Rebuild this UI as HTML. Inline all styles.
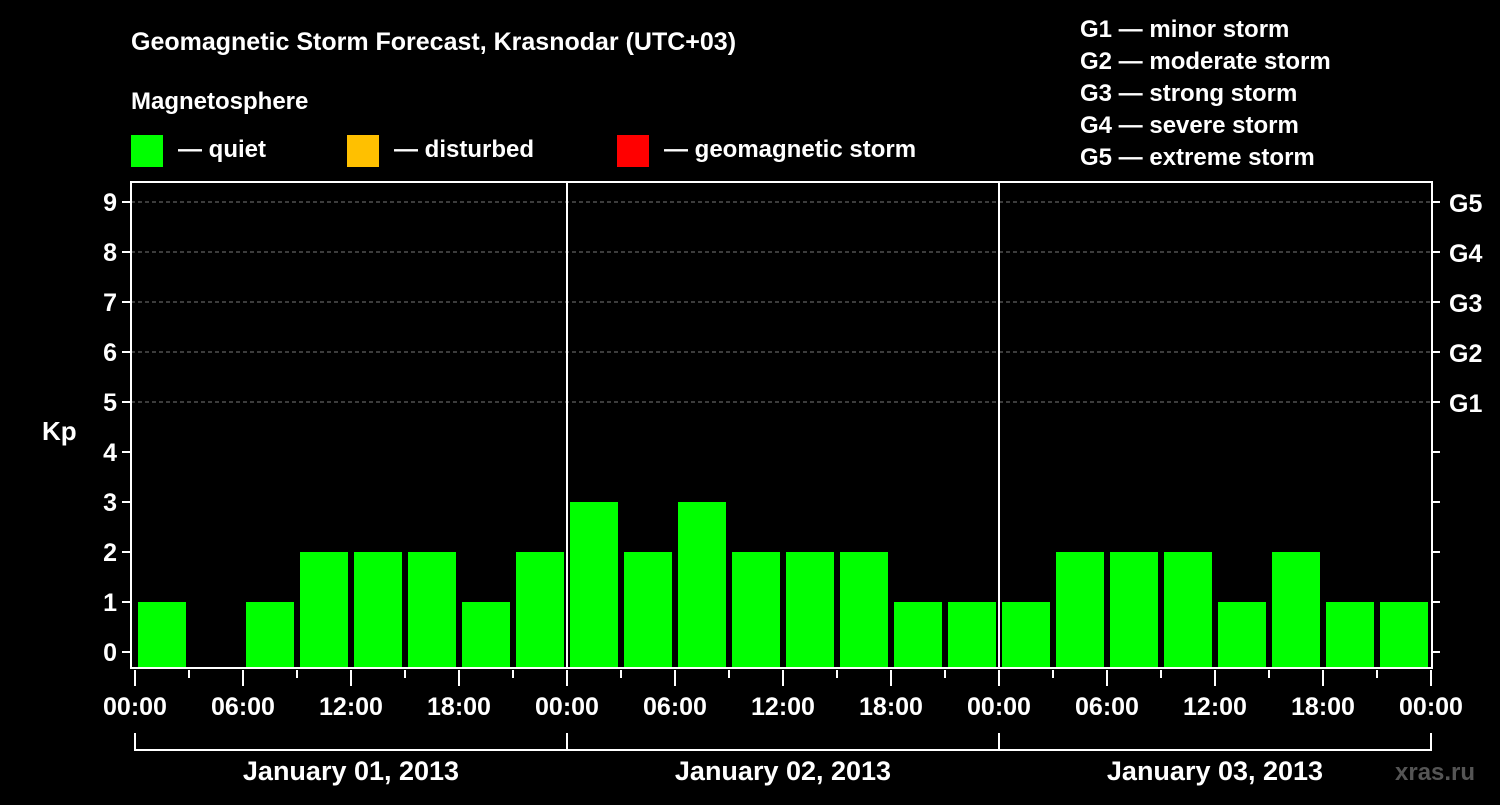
<!DOCTYPE html>
<html><head><meta charset="utf-8"><style>
body{margin:0;background:#000;width:1500px;height:800px;overflow:hidden;font-family:"Liberation Sans",sans-serif}
svg text{font-family:"Liberation Sans",sans-serif;font-weight:bold;fill:#fff}
</style></head><body>
<svg id="c" width="1500" height="800">
<text x="131" y="50" font-size="25">Geomagnetic Storm Forecast, Krasnodar (UTC+03)</text>
<text x="131" y="109" font-size="24">Magnetosphere</text>
<rect x="131" y="135" width="32" height="32" fill="#00ff00"/>
<text x="178" y="157" font-size="24">— quiet</text>
<rect x="347" y="135" width="32" height="32" fill="#ffc000"/>
<text x="394" y="157" font-size="24">— disturbed</text>
<rect x="617" y="135" width="32" height="32" fill="#ff0000"/>
<text x="664" y="157" font-size="24">— geomagnetic storm</text>
<g font-size="24">
<text x="1080" y="37">G1 — minor storm</text>
<text x="1080" y="69">G2 — moderate storm</text>
<text x="1080" y="101">G3 — strong storm</text>
<text x="1080" y="133">G4 — severe storm</text>
<text x="1080" y="165">G5 — extreme storm</text>
</g>
<text x="42" y="440" font-size="26">Kp</text>
<text x="1395" y="780" font-size="24" fill="#555" style="fill:#555">xras.ru</text>
<g id="grid"></g><g id="bars"></g><g id="axes"></g>
</svg>
<script>
const values=[1,0,1,2,2,2,1,2, 3,2,3,2,2,2,1,1, 1,2,2,2,1,2,1,1];
const yTicks=[0,1,2,3,4,5,6,7,8,9];
const gLabels=["G1","G2","G3","G4","G5"];
const xLabels=["00:00","06:00","12:00","18:00","00:00","06:00","12:00","18:00","00:00","06:00","12:00","18:00","00:00"];
const days=["January 01, 2013","January 02, 2013","January 03, 2013"];
const NS="http://www.w3.org/2000/svg";
const X0=135,DAY=432,L=131,R=1432,T=182,B=668;
const x=h=>X0+h*DAY/24;
const y=v=>652-v*50;
function mk(tag,a,parent,txt){const e=document.createElementNS(NS,tag);for(const k in a)e.setAttribute(k,a[k]);if(txt!==undefined)e.textContent=txt;document.getElementById(parent).appendChild(e);return e;}
yTicks.forEach(v=>{
 if(v>=5){const g=mk('line',{x1:L,x2:R,y1:y(v),y2:y(v),stroke:'#777','stroke-dasharray':'4,3','stroke-width':1},'grid');
 
 }
 const t=mk('line',{x1:L-9,x2:L,y1:y(v),y2:y(v),stroke:'#fff','stroke-width':2},'axes');
 
 
 const t2=mk('line',{x1:R,x2:R+8,y1:y(v),y2:y(v),stroke:'#fff','stroke-width':2},'axes');
 
 
 const l=mk('text',{x:L-14,y:y(v)+9,'font-size':25,'text-anchor':'end'},'axes',v);
 
 
});
gLabels.forEach((g,i)=>{
 const l=mk('text',{x:1449,y:y(5+i)+10,'font-size':25},'axes',g);
 
 
});
values.forEach((v,i)=>{
 if(v<=0)return;
 const b=mk('rect',{x:x(i*3)+3,y:y(v),width:DAY/8-6,height:B-y(v),fill:'#00ff00'},'bars');
 
 
});
const f=mk('rect',{x:L,y:T,width:R-L,height:B-T,fill:'none',stroke:'#fff','stroke-width':2},'axes');


[1,2].forEach(d=>{const s=mk('line',{x1:x(d*24),x2:x(d*24),y1:T,y2:B,stroke:'#fff','stroke-width':2},'axes');
 
 });
for(let h=0;h<=72;h+=3){const major=h%6==0;
 const t=mk('line',{x1:x(h),x2:x(h),y1:B+2,y2:major?B+18:B+10,stroke:'#fff','stroke-width':2},'axes');
 
 }
xLabels.forEach((s,i)=>{const l=mk('text',{x:x(i*6),y:715,'font-size':25,'text-anchor':'middle'},'axes',s);
 
 });
const br=mk('path',{d:`M${x(0)} 733V750H${x(72)}V733M${x(24)} 733V750M${x(48)} 733V750`,stroke:'#fff','stroke-width':2,fill:'none'},'axes');


days.forEach((d,i)=>{const l=mk('text',{x:x(i*24+12),y:780,'font-size':27,'text-anchor':'middle'},'axes',d);
 
 });
</script>
</body></html>
